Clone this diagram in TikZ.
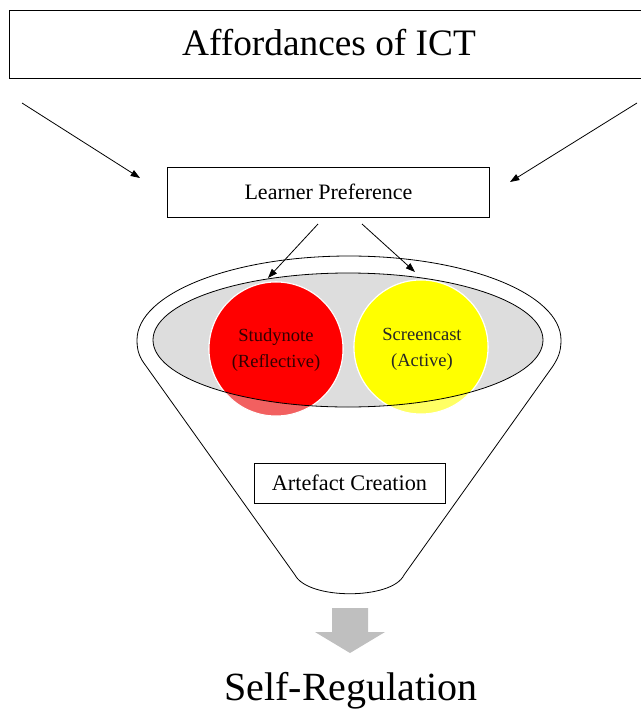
\documentclass[tikz,border=0pt]{standalone}
\usepackage{fontspec}
\setmainfont{Liberation Serif}
\usepackage{tikz}
\usetikzlibrary{positioning, arrows.meta, calc}
\definecolor{traygrey}{RGB}{221,221,221}
\definecolor{flowgrey}{RGB}{191,191,191}
\definecolor{notered}{RGB}{255,0,0}
\definecolor{notepale}{RGB}{242,96,96}
\definecolor{castyellow}{RGB}{255,255,0}
\definecolor{castpale}{RGB}{255,255,100}

\begin{document}
\begin{tikzpicture}[x=0.75pt, y=-0.75pt,
    box/.style={draw, semithick, inner sep=0pt},
    arr/.style={-{Triangle[length=7pt, width=5pt]}, semithick},
    disc/.style={circle, draw=white, thick, minimum size=100.5pt, inner sep=0pt}]
  \useasboundingbox (0,0) rectangle (640,711);

  % heading and learner preference
  \node[box, minimum width=500pt, minimum height=51pt,
        font=\fontsize{28}{34}\selectfont] (ict) at (343,44) {};
  \node[font=\fontsize{28}{34}\selectfont, anchor=base] (icttext) at (329,55) {Affordances of ICT};
  \node[box, minimum width=242pt, minimum height=37.5pt,
        font=\fontsize{16.5}{20}\selectfont] (learner) at (328.5,192) {Learner Preference};

  \coordinate (ictL) at (22,103);
  \coordinate (ictR) at (637,103);
  \coordinate (learnL) at (140,178);
  \coordinate (learnR) at (510,182);
  \draw[arr] (ictL) -- (learnL);
  \draw[arr] (ictR) -- (learnR);

  % funnel
  \draw[semithick] (137,340) arc[start angle=180, end angle=0, x radius=159pt, y radius=63pt]
    .. controls (561,352) and (558,358) .. (553,366) -- (404,575)
    .. controls (392,600) and (308,600) .. (295,575) -- (146,366)
    .. controls (140,358) and (137,352) .. (137,340);

  \fill[traygrey] (348,340) ellipse [x radius=146.25pt, y radius=50.25pt];
  \node[disc, fill=notepale] (studynote) at (276,349) {};
  \node[disc, fill=castpale] (screencast) at (421,347) {};
  \begin{scope}
    \clip (348,340) ellipse [x radius=146.25pt, y radius=50.25pt];
    \node[disc, fill=notered] at (studynote) {};
    \node[disc, fill=castyellow] at (screencast) {};
  \end{scope}
  \draw[semithick] (348,340) ellipse [x radius=146.25pt, y radius=50.25pt];

  \node[align=center, text=black!80!red, font=\fontsize{13.9}{19.5}\selectfont]
    (studytext) at (276,350) {Studynote\\(Reflective)};
  \node[align=center, text=black!85, font=\fontsize{13.9}{19.5}\selectfont]
    (casttext) at (422,349) {Screencast\\(Active)};

  \coordinate (prefA) at (318,224);
  \coordinate (prefB) at (362,224);
  \coordinate (noteTip) at (268,278);
  \coordinate (castTip) at (415,272);
  \draw[arr] (prefA) -- (noteTip);
  \draw[arr] (prefB) -- (castTip);

  \node[box, minimum width=143.25pt, minimum height=30pt,
        font=\fontsize{16.7}{20}\selectfont] (artefact) at (349.5,483) {Artefact Creation};

  % outcome
  \fill[flowgrey] (332,608) -- (368,608) -- (368,632) -- (385,632) -- (350,653)
    -- (315,632) -- (332,632) -- cycle;
  \node[anchor=base, inner sep=0pt, font=\fontsize{30}{36}\selectfont]
    (selfreg) at (351,700) {Self-Regulation};
\end{tikzpicture}
\end{document}
